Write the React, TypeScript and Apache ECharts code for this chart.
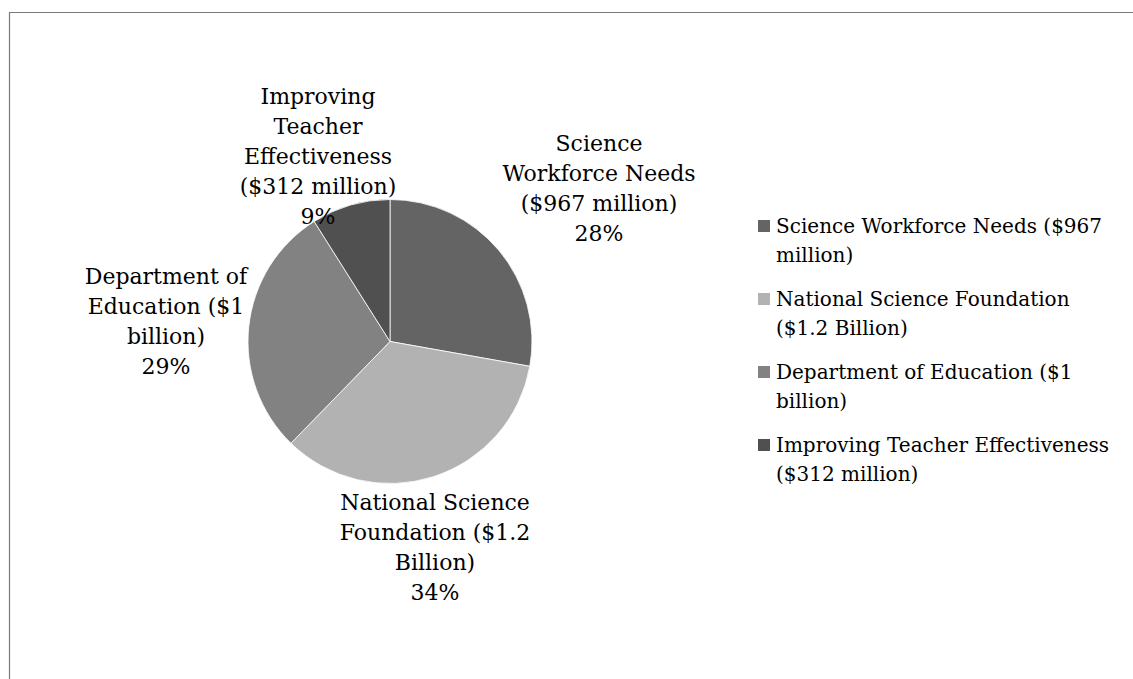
import React, { useEffect, useRef } from "react";
import * as echarts from "echarts";

const CATEGORIES = [
  "Science Workforce Needs ($967 million)",
  "National Science Foundation ($1.2 Billion)",
  "Department of Education ($1 billion)",
  "Improving Teacher Effectiveness ($312 million)",
];
const VALUES = [967, 1200, 1000, 312];
const COLORS = ["#646464", "#b2b2b2", "#828282", "#505050"];

// label block centres (page px), layout only
const LABEL_CENTRES = [
  [599, 188],
  [435, 547],
  [166, 321],
  [318, 156],
];

const FONT = '"DejaVu Serif", serif';
const LABEL_SIZE = 22;
const LEGEND_SIZE = 20;

function wrapText(text: string, maxW: number, size: number): string[] {
  const ctx = document.createElement("canvas").getContext("2d")!;
  ctx.font = `${size}px "DejaVu Serif"`;
  const words = text.split(" ");
  const lines: string[] = [];
  let cur = "";
  for (const w of words) {
    const t = cur ? cur + " " + w : w;
    if (cur && ctx.measureText(t).width > maxW) {
      lines.push(cur);
      cur = w;
    } else cur = t;
  }
  if (cur) lines.push(cur);
  return lines;
}

export default function App() {
  const ref = useRef<HTMLDivElement>(null);
  useEffect(() => {
    const chart = echarts.init(ref.current!, null, { renderer: "svg" });
    chart.setOption({
      animation: false,
      backgroundColor: "#ffffff",
      textStyle: { fontFamily: FONT },
      graphic: [
        {
          type: "rect",
          shape: { x: 9.5, y: 12.5, width: 1400, height: 1000 },
          style: { fill: "none", stroke: "#7a7a7a", lineWidth: 1.2 },
          silent: true,
        },
      ],
      legend: {
        orient: "vertical",
        left: 756,
        top: 182.5,
        padding: 0,
        itemWidth: 14,
        itemHeight: 14,
        itemGap: -14,
        icon: "rect",
        selectedMode: false,
        data: CATEGORIES,
        formatter: (name: string) => "\n" + wrapText(name, 345, LEGEND_SIZE).join("\n"),
        textStyle: {
          fontFamily: FONT,
          fontSize: LEGEND_SIZE,
          lineHeight: 29,
          color: "#000",
        },
      },
      series: [
        {
          type: "pie",
          center: [390, 341.5],
          radius: 142,
          startAngle: 90,
          clockwise: true,
          avoidLabelOverlap: false,
          data: CATEGORIES.map((c, i) => ({
            name: c,
            value: VALUES[i],
            itemStyle: { color: COLORS[i] },
          })),
          itemStyle: { borderColor: "#ffffff", borderWidth: 0.8 },
          label: {
            show: true,
            position: "outside",
            fontFamily: FONT,
            fontSize: LABEL_SIZE,
            lineHeight: 30,
            color: "#000",
            align: "center",
            formatter: (p: any) =>
              wrapText(p.name, 200, LABEL_SIZE).join("\n") + "\n" + Math.round(p.percent) + "%",
          },
          labelLine: { show: false },
          labelLayout: (p: any) => {
            const c = LABEL_CENTRES[p.dataIndex];
            return { x: c[0], y: c[1], align: "center", verticalAlign: "middle" };
          },
          emphasis: { disabled: true },
        },
      ],
    });
    return () => chart.dispose();
  }, []);
  return (
    <div
      ref={ref}
      style={{ position: "absolute", left: 0, top: 0, width: 1133, height: 679 }}
    />
  );
}
